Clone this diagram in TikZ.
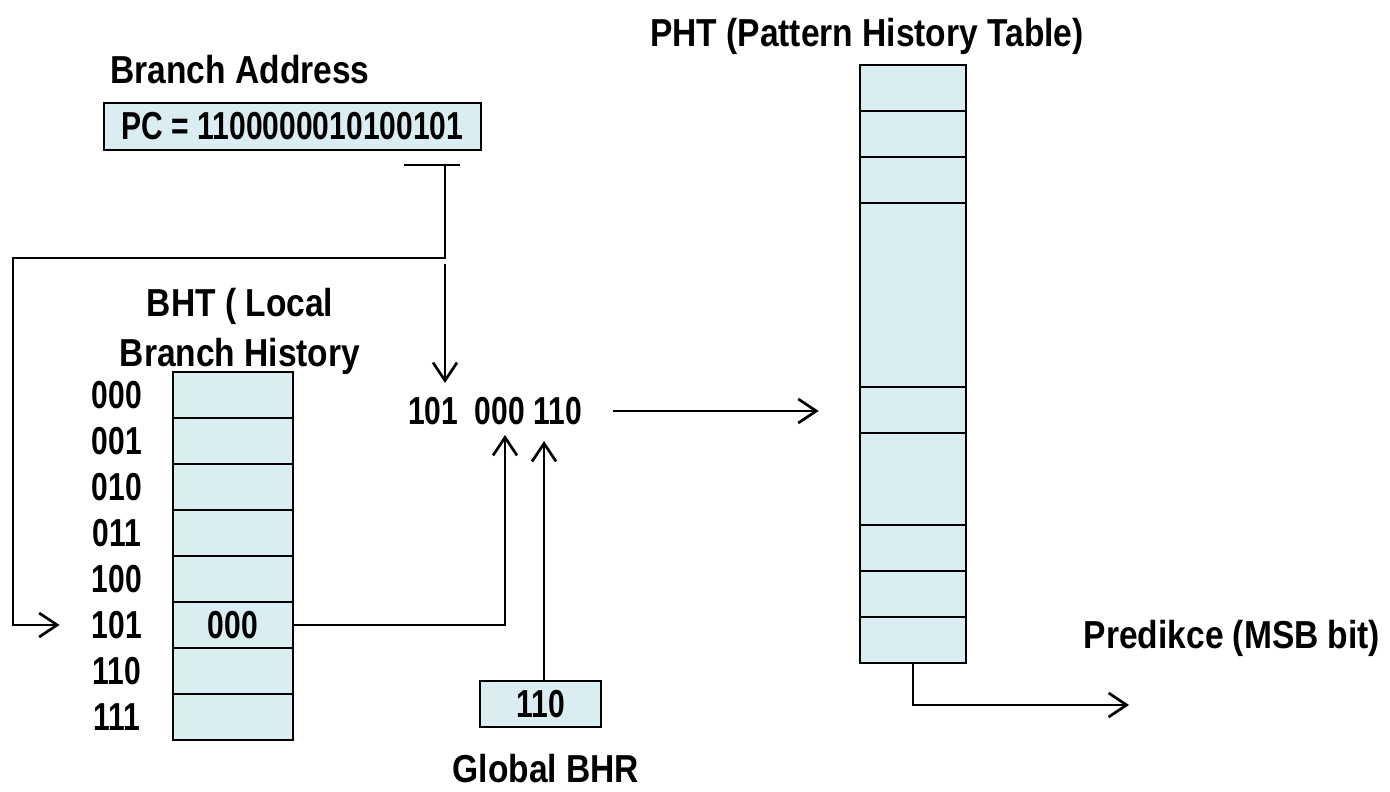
\documentclass[tikz,border=0pt]{standalone}
\usepackage{fontspec}
\setmainfont{Liberation Sans}[FakeStretch=0.86]
\newfontfamily\numfont{Liberation Sans}[FakeStretch=0.77]
\usepackage{tikz}
\usetikzlibrary{arrows.meta,positioning}
\definecolor{cellfill}{RGB}{218,237,240}

\begin{document}
\begin{tikzpicture}[x=1pt,y=-1pt,line width=2.7pt]
      \tikzstyle{cell}=[draw=black, fill=cellfill, inner sep=0pt,
        minimum width=120pt, minimum height=46pt,
        font=\numfont\bfseries\fontsize{39}{42}\selectfont]
      \tikzstyle{bits}=[inner sep=0pt, font=\numfont\bfseries\fontsize{39}{42}\selectfont]
      \tikzstyle{title}=[inner sep=0pt, anchor=base, font=\bfseries\fontsize{39}{42}\selectfont]
      \tikzstyle{arr}=[-{Straight Barb[length=18pt,width=24pt]}]
      \useasboundingbox (0,0) rectangle (1390,792);
      \def \rowh {46}
      % BHT rows and their indexes
      \foreach \bits [count=\i from 0] in {000,001,010,011,100,101,110,111} {
        \node[cell] (r\i) at (233,{395+\rowh*\i}) {};
        \node[bits] (l\i) at (117,{395+\rowh*\i}) {\bits};
      }
      \node[bits] (r5txt) at (r5) {000};
      % PHT rows
      \foreach \a/\b [count=\k] in {65/111,111/157,157/203,203/387,387/433,
                                    433/525,525/571,571/617,617/663} {
        \node[cell, minimum width=106pt, minimum height={(\b-\a)*1pt}]
          (p\k) at (913,{(\a+\b)/2}) {};
      }
      \node[cell, minimum width=377pt, minimum height=47pt] (pc) at (292.5,126.5) {PC = 1100000010100101};
      \node[cell, minimum width=121pt] (gbhr) at (540.5,704) {110};
      \node[bits] (idx) at (495,411) {101\ \ 000 110};
      \node[title] (addr) at (240,84) {Branch Address};
      \node[title] (bht1) at (240,316) {BHT ( Local};
      \node[title] (bht2) at (240,366) {Branch History};
      \node[title] (phtt) at (867,47) {PHT (Pattern History Table)};
      \node[title] (predt) at (1232,648) {Predikce (MSB bit)};
      \node[title] (gbt) at (546,782) {Global BHR};
      % connectors
      \coordinate (tl) at (404,165);
      \coordinate (tr) at (460,165);
      \coordinate (tm) at (445,165);
      \coordinate (dn) at (445,264);
      \coordinate (in101) at (445,383);
      \coordinate (in000) at (505,435);
      \coordinate (in110) at (544,441);
      \coordinate (phtin) at ([xshift=-40pt]p5.west);
      \coordinate (pred) at (1129,705);
      \draw (tl) -- (tr);
      \draw[arr] (tm) |- (13,258) |- ([xshift=-31pt]l5.west);
      \draw[arr] (dn) -- (in101);
      \draw[arr] (r5.east) -| (in000);
      \draw[arr] (in110 |- gbhr.north) -- (in110);
      \draw[arr] ([xshift=30pt]idx.east) -- (idx.east -| phtin);
      \draw[arr] (p9.south) |- (pred);
\end{tikzpicture}
\end{document}
